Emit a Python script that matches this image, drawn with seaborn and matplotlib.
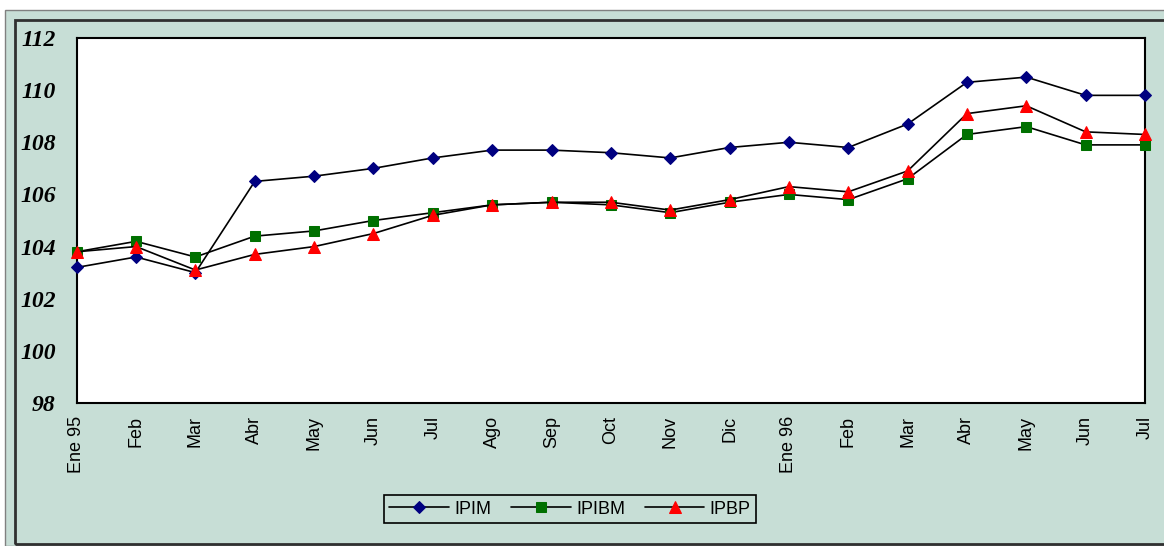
import numpy as np
import pandas as pd
import matplotlib
matplotlib.use("Agg")
import matplotlib.pyplot as plt
import matplotlib.patches as mpatches
import seaborn as sns

months = ["Ene 95", "Feb", "Mar", "Abr", "May", "Jun", "Jul", "Ago", "Sep", "Oct",
          "Nov", "Dic", "Ene 96", "Feb", "Mar", "Abr", "May", "Jun", "Jul"]

ipim = [103.2, 103.6, 103.0, 106.5, 106.7, 107.0, 107.4, 107.7, 107.7, 107.6,
        107.4, 107.8, 108.0, 107.8, 108.7, 110.3, 110.5, 109.8, 109.8]
ipibm = [103.8, 104.2, 103.6, 104.4, 104.6, 105.0, 105.3, 105.6, 105.7, 105.6,
         105.3, 105.7, 106.0, 105.8, 106.6, 108.3, 108.6, 107.9, 107.9]
ipbp = [103.8, 104.0, 103.1, 103.7, 104.0, 104.5, 105.2, 105.6, 105.7, 105.7,
        105.4, 105.8, 106.3, 106.1, 106.9, 109.1, 109.4, 108.4, 108.3]

bg = "#c7ded6"

sns.set_style("white")
plt.rcParams["font.family"] = ["Liberation Sans", "DejaVu Sans"]
plt.rcParams["text.color"] = "black"
plt.rcParams["xtick.color"] = "black"
plt.rcParams["ytick.color"] = "black"

fig = plt.figure(figsize=(11.64, 5.46), dpi=100)
W, H = 1164, 546

# greenish chart area with double frame
fig.patches.append(mpatches.Rectangle((5 / W, 0), 1, 1 - 10 / H, transform=fig.transFigure,
                                      facecolor=bg, edgecolor="#808080", linewidth=1.0, zorder=-3))
fig.patches.append(mpatches.Rectangle((15 / W, 2 / H), 1, 1 - 22 / H, transform=fig.transFigure,
                                      facecolor="none", edgecolor="#303030", linewidth=2.0, zorder=-2))

ax = fig.add_axes([76.7 / W, 1 - 403 / H, (1145 - 76.7) / W, (403 - 38) / H])
ax.set_facecolor("white")

x = np.arange(len(months))
series = [
    ("IPIM", ipim, "D", "#000080", 6.5),
    ("IPIBM", ipibm, "s", "#007000", 7.5),
    ("IPBP", ipbp, "^", "#ff0000", 8.5),
]
for name, vals, mk, col, ms in series:
    df = pd.DataFrame({"x": x, "y": vals})
    sns.lineplot(data=df, x="x", y="y", ax=ax, color="black", linewidth=1.2,
                 marker=mk, markersize=ms, markerfacecolor=col, markeredgecolor=col,
                 label=name, clip_on=False, zorder=3)

ax.set_xlim(0, len(months) - 1)
ax.set_ylim(98, 112)
ax.set_yticks(np.arange(98, 113, 2))
ax.set_yticklabels([str(v) for v in range(98, 113, 2)],
                   fontdict={"family": "Liberation Serif", "weight": "bold",
                             "style": "italic", "size": 17})
ax.set_xticks(x)
ax.set_xticklabels(months, rotation=90, fontsize=13)
ax.set_xlabel("")
ax.set_ylabel("")

for s in ax.spines.values():
    s.set_color("black")
    s.set_linewidth(1.5)
    s.set_visible(True)
ax.tick_params(axis="y", direction="out", length=7, width=1.2, pad=8, colors="black")
ax.tick_params(axis="x", direction="inout", length=9, width=1.2, pad=5, colors="black")

leg = ax.legend(loc="center", bbox_to_anchor=(570 / W, 1 - 509 / H),
                bbox_transform=fig.transFigure, ncol=3, frameon=True,
                fancybox=False, fontsize=13, handlelength=3.3, columnspacing=1.1,
                handletextpad=0.3, borderpad=0.3)
leg.get_frame().set_facecolor(bg)
leg.get_frame().set_edgecolor("black")
leg.get_frame().set_linewidth(1.2)
leg.get_frame().set_alpha(1)
for t in leg.get_texts():
    t.set_color("black")

fig.savefig("out.png", dpi=100, facecolor="white")
